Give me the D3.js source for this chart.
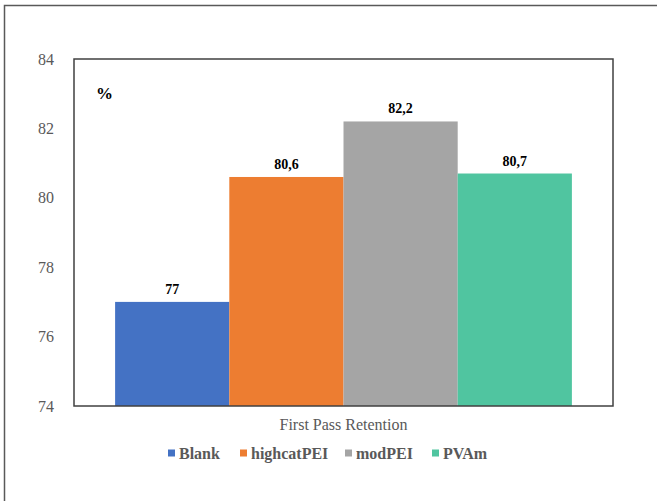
<!DOCTYPE html>
<html>
<head>
<meta charset="utf-8">
<script src="https://cdn.jsdelivr.net/npm/d3@7"></script>
</head>
<body style="margin:0">
<svg id="chart" width="657" height="501"></svg>
<script>
// First-pass retention per additive (%)
const categories = ["First Pass Retention"];
const seriesNames = ["Blank", "highcatPEI", "modPEI", "PVAm"];
const seriesValues = [77, 80.6, 82.2, 80.7];
const valueLabels = ["77", "80,6", "82,2", "80,7"];
const seriesColors = ["#4472C4", "#ED7D31", "#A5A5A5", "#50C5A0"];
const yTicks = [74, 76, 78, 80, 82, 84];

const svg = d3.select("#chart");
const W = 657, H = 501;
const plot = { left: 74, right: 613, top: 59, bottom: 406 };
const FONT = "Liberation Serif";

// Outer frame (runs off the right and bottom edges)
svg.append("rect")
  .attr("x", 4.5).attr("y", 5.5)
  .attr("width", W + 10).attr("height", H + 10)
  .attr("fill", "#fff").attr("stroke", "#595959").attr("stroke-width", 1.5);

const x0 = d3.scaleBand().domain(categories).range([plot.left, plot.right]).paddingInner(0).paddingOuter(0.09);
const x1 = d3.scaleBand().domain(seriesNames).range([0, x0.bandwidth()]).padding(0);
const y = d3.scaleLinear().domain([74, 84]).range([plot.bottom, plot.top]);

const data = seriesNames.map((name, i) => ({ name, value: seriesValues[i], label: valueLabels[i], color: seriesColors[i], cat: categories[0] }));

// Bars
svg.append("g").selectAll("rect").data(data).join("rect")
  .attr("x", d => x0(d.cat) + x1(d.name))
  .attr("y", d => y(d.value))
  .attr("width", x1.bandwidth())
  .attr("height", d => y(74) - y(d.value))
  .attr("fill", d => d.color);

// Value labels
svg.append("g").selectAll("text").data(data).join("text")
  .attr("x", d => x0(d.cat) + x1(d.name) + x1.bandwidth() / 2)
  .attr("y", d => y(d.value) - 8)
  .attr("text-anchor", "middle")
  .attr("font-family", FONT).attr("font-size", 14).attr("font-weight", "bold")
  .attr("fill", "#000")
  .text(d => d.label);

// Plot area border
svg.append("rect")
  .attr("x", plot.left).attr("y", plot.top)
  .attr("width", plot.right - plot.left).attr("height", plot.bottom - plot.top)
  .attr("fill", "none").attr("stroke", "#404040").attr("stroke-width", 1.5);

// Y axis labels
const yAxis = d3.axisLeft(y).tickValues(yTicks).tickSize(0).tickPadding(20).tickFormat(d3.format("d"));
const gy = svg.append("g").attr("transform", `translate(${plot.left},0)`).call(yAxis);
gy.attr("font-family", FONT).attr("font-size", 16);
gy.select(".domain").remove();
gy.selectAll("text").attr("fill", "#595959");

// Unit marker
svg.append("text")
  .attr("x", 96).attr("y", 99)
  .attr("font-family", FONT).attr("font-size", 17).attr("font-weight", "bold")
  .attr("fill", "#000").text("%");

// Category label
svg.append("text")
  .attr("x", x0(categories[0]) + x0.bandwidth() / 2).attr("y", 430)
  .attr("text-anchor", "middle")
  .attr("font-family", FONT).attr("font-size", 16)
  .attr("fill", "#595959")
  .text(categories[0]);

// Legend
const legendX = [168, 240, 345, 432];
const legend = svg.append("g").selectAll("g").data(data).join("g")
  .attr("transform", (d, i) => `translate(${legendX[i]},453)`);
legend.append("rect")
  .attr("x", 0).attr("y", -3.5).attr("width", 7).attr("height", 7)
  .attr("fill", d => d.color);
legend.append("text")
  .attr("x", 11).attr("y", 5.5)
  .attr("font-family", FONT).attr("font-size", 16).attr("font-weight", "bold")
  .attr("fill", "#595959")
  .text(d => d.name);
</script>
</body>
</html>
